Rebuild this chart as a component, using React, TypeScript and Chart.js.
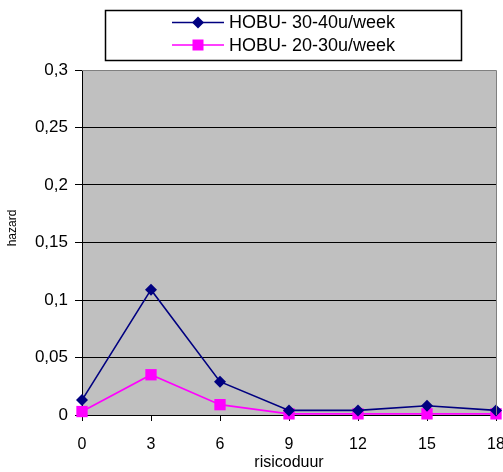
import React, { useEffect, useRef } from "react";
import { Chart, registerables } from "chart.js";

Chart.register(...registerables);

const categories = ["0", "3", "6", "9", "12", "15", "18"];
const seriesNames = ["HOBU- 30-40u/week", "HOBU- 20-30u/week"];
const hobu3040 = [0.013, 0.109, 0.029, 0.004, 0.004, 0.008, 0.004];
const hobu2030 = [0.003, 0.035, 0.009, 0.001, 0.001, 0.001, 0.001];
const yTicks = [0, 0.05, 0.1, 0.15, 0.2, 0.25, 0.3];
const xTitle = "risicoduur";
const yTitle = "hazard";

const NAVY = "#000080";
const MAGENTA = "#ff00ff";
const FONT = "'Liberation Sans', Arial, sans-serif";

const decor = {
  id: "decor",
  beforeDraw(chart: any) {
    const { ctx, chartArea: a } = chart;
    ctx.save();
    ctx.fillStyle = "#c0c0c0";
    ctx.fillRect(a.left, a.top, a.right - a.left, a.bottom - a.top);
    ctx.restore();
  },
  afterDraw(chart: any) {
    const { ctx, chartArea: a } = chart;
    ctx.save();
    ctx.strokeStyle = "#808080";
    ctx.lineWidth = 1;
    ctx.beginPath();
    ctx.moveTo(a.left, a.top + 0.5);
    ctx.lineTo(a.right + 0.5, a.top + 0.5);
    ctx.lineTo(a.right + 0.5, a.bottom);
    ctx.stroke();

    ctx.fillStyle = "#000";
    ctx.font = `12px ${FONT}`;
    ctx.textAlign = "center";
    ctx.textBaseline = "middle";
    ctx.translate(13, 228);
    ctx.rotate(-Math.PI / 2);
    ctx.fillText(yTitle, 0, 0);
    ctx.restore();

    ctx.save();
    ctx.fillStyle = "#fff";
    ctx.fillRect(105, 10, 356, 50);
    ctx.strokeStyle = "#000";
    ctx.lineWidth = 1.5;
    ctx.strokeRect(105.5, 10.5, 356, 50);
    const rows = [
      { name: seriesNames[0], color: NAVY, shape: "diamond", y: 22.5 },
      { name: seriesNames[1], color: MAGENTA, shape: "square", y: 45 },
    ];
    for (const r of rows) {
      ctx.strokeStyle = r.color;
      ctx.lineWidth = 1.5;
      ctx.beginPath();
      ctx.moveTo(172, r.y);
      ctx.lineTo(224, r.y);
      ctx.stroke();
      ctx.fillStyle = r.color;
      ctx.beginPath();
      if (r.shape === "diamond") {
        ctx.moveTo(198 - 6, r.y);
        ctx.lineTo(198, r.y - 6);
        ctx.lineTo(198 + 6, r.y);
        ctx.lineTo(198, r.y + 6);
        ctx.closePath();
      } else {
        ctx.rect(198 - 5.5, r.y - 5.5, 11, 11);
      }
      ctx.fill();
      ctx.fillStyle = "#000";
      ctx.font = `18px ${FONT}`;
      ctx.textAlign = "left";
      ctx.textBaseline = "middle";
      ctx.fillText(r.name, 229, r.y + 1);
    }
    ctx.restore();
  },
};

export default function App() {
  const ref = useRef<HTMLCanvasElement | null>(null);
  useEffect(() => {
    if (!ref.current) return;
    const chart = new Chart(ref.current, {
      type: "line",
      data: {
        labels: categories,
        datasets: [
          {
            label: seriesNames[0],
            data: hobu3040,
            borderColor: NAVY,
            backgroundColor: NAVY,
            borderWidth: 1.6,
            pointStyle: "rectRot",
            pointRadius: 6,
            pointBorderWidth: 0,
            pointBackgroundColor: NAVY,
            tension: 0,
            clip: false as any,
          },
          {
            label: seriesNames[1],
            data: hobu2030,
            borderColor: MAGENTA,
            backgroundColor: MAGENTA,
            borderWidth: 1.6,
            pointStyle: "rect",
            pointRadius: 8,
            pointBorderWidth: 0,
            pointBackgroundColor: MAGENTA,
            tension: 0,
            clip: false as any,
          },
        ],
      },
      options: {
        animation: false,
        responsive: false,
        maintainAspectRatio: false,
        layout: { autoPadding: false, padding: { top: 70, left: 0, right: 7, bottom: 0 } } as any,
        plugins: { legend: { display: false }, tooltip: { enabled: false } },
        scales: {
          x: {
            type: "category",
            offset: false,
            grid: {
              drawOnChartArea: false,
              drawTicks: true,
              tickLength: 6,
              tickColor: "#000",
            },
            border: { color: "#000", width: 1 },
            ticks: {
              color: "#000",
              font: { family: FONT, size: 16 },
              padding: 14,
              maxRotation: 0,
              autoSkip: false,
            },
            title: {
              display: true,
              text: xTitle,
              color: "#000",
              font: { family: FONT, size: 16 },
              padding: { top: 0, bottom: 0 },
            },
            afterFit: (s: any) => {
              s.height = 57;
              s.paddingLeft = 0;
              s.paddingRight = 0;
            },
          },
          y: {
            min: 0,
            max: 0.3,
            afterBuildTicks: (s: any) => {
              s.ticks = yTicks.map((v) => ({ value: v }));
            },
            grid: {
              color: (c: any) => (c.tick && c.tick.value === 0.3 ? "#808080" : "#000"),
              tickColor: "#000",
              tickLength: 7,
              lineWidth: 1,
            },
            border: { color: "#000", width: 1 },
            ticks: {
              color: "#000",
              font: { family: FONT, size: 17 },
              padding: 7,
              callback: (v: any) => String(Number(v).toFixed(2)).replace(/0+$/, "").replace(/\.$/, "").replace(".", ","),
            },
            afterFit: (s: any) => {
              s.width = 82;
              s.paddingTop = 0;
              s.paddingBottom = 0;
            },
          },
        },
      },
      plugins: [decor],
    });
    return () => chart.destroy();
  }, []);
  return (
    <div style={{ position: "fixed", left: 0, top: 0, width: 503, height: 472, background: "#fff" }}>
      <canvas ref={ref} width={503} height={472} style={{ width: 503, height: 472, display: "block" }} />
    </div>
  );
}
